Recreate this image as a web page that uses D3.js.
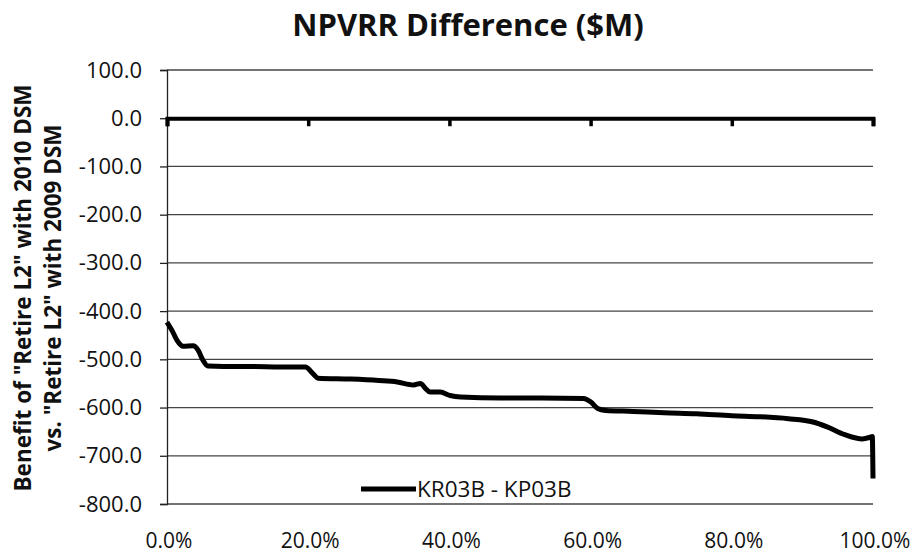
<!DOCTYPE html>
<html>
<head>
<meta charset="utf-8">
<script src="https://cdn.jsdelivr.net/npm/d3@7"></script>
<style>
  body { margin: 0; background: #fff; }
  text { font-family: "Open Sans", Lato, sans-serif; fill: #111; }
</style>
</head>
<body>
<svg id="chart" width="923" height="559"></svg>
<script>
// cumulative share of scenarios (%) and NPVRR difference ($M)
var pct = [0, 0.7, 1.4, 2.3, 3.7, 4.4, 5.1, 5.8, 8, 12, 16, 19.6, 20.7, 21.4, 26, 30, 32.6, 34.9, 35.9, 36.6, 37.3, 38.7, 40.1, 41.6, 47.2, 53, 59, 60, 61, 62.1, 66, 70.4, 75, 80, 84, 88, 91.5, 93.5, 96, 98.5, 99.5, 99.9, 100];
var values = [-423, -440, -460, -473, -472, -481, -502, -514, -515, -515, -516, -516, -530, -539, -541, -544, -547, -553, -550, -560, -568, -568, -575, -578, -580, -580, -581, -588, -602, -606, -608, -611, -613, -617, -619, -623, -630, -640, -656, -665, -662, -660, -747];

var yTicks = [100, 0, -100, -200, -300, -400, -500, -600, -700, -800];
var xTicks = [0, 20, 40, 60, 80, 100];
var seriesName = "KR03B - KP03B";

var svg = d3.select("#chart"),
    plotLeft = 167, plotRight = 873, plotTop = 70, plotBottom = 504;

var x = d3.scaleLinear().domain([0, 100]).range([plotLeft, plotRight]),
    y = d3.scaleLinear().domain([100, -800]).range([plotTop, plotBottom]);

svg.append("text")
    .attr("x", 468).attr("y", 36)
    .attr("text-anchor", "middle")
    .style("font-size", "31px").style("font-weight", "bold")
    .text("NPVRR Difference ($M)");

// gridlines
svg.append("g").selectAll("line")
    .data(yTicks)
    .enter().append("line")
    .attr("x1", plotLeft).attr("x2", plotRight)
    .attr("y1", d => y(d)).attr("y2", d => y(d))
    .attr("stroke", "#444").attr("stroke-width", 1.3);

// y axis
var yAxis = svg.append("g")
    .attr("transform", "translate(" + plotLeft + ",0)")
    .call(d3.axisLeft(y).tickValues(yTicks).tickSize(7).tickPadding(18).tickFormat(d => d.toFixed(1)));
yAxis.select(".domain").attr("stroke", "#222").attr("stroke-width", 1.3);
yAxis.selectAll(".tick line").attr("stroke", "#222").attr("stroke-width", 1.3);
yAxis.selectAll("text").style("font-size", "22px").attr("fill", "#111");

// x axis crosses at zero, labels sit at the bottom
var xAxis = svg.append("g")
    .attr("transform", "translate(0," + y(0) + ")")
    .call(d3.axisBottom(x).tickValues(xTicks).tickSize(8).tickFormat(""));
xAxis.select(".domain").attr("stroke", "#000").attr("stroke-width", 4);
xAxis.selectAll(".tick line").attr("stroke", "#000").attr("stroke-width", 3.5);

svg.append("g").selectAll("text")
    .data(xTicks)
    .enter().append("text")
    .attr("x", d => x(d) + 2).attr("y", 548)
    .attr("text-anchor", "middle")
    .style("font-size", "21px")
    .text(d => d.toFixed(1) + "%");

// y title
var yTitle = svg.append("text")
    .attr("transform", "translate(0,288) rotate(-90)")
    .attr("text-anchor", "middle")
    .style("font-size", "22.5px").style("font-weight", "bold");
yTitle.append("tspan").attr("x", 0).attr("y", 31).text("Benefit of \"Retire L2\" with 2010 DSM");
yTitle.append("tspan").attr("x", 0).attr("y", 61).text("vs. \"Retire L2\" with 2009 DSM");

// series
var line = d3.line()
    .x((d, i) => x(pct[i]))
    .y(d => y(d))
    .curve(d3.curveMonotoneX);

svg.append("path")
    .datum(values)
    .attr("d", line)
    .attr("fill", "none")
    .attr("stroke", "#000")
    .attr("stroke-width", 5)
    .attr("stroke-linejoin", "round");

// legend
svg.append("line")
    .attr("x1", 361).attr("x2", 416)
    .attr("y1", 489).attr("y2", 489)
    .attr("stroke", "#000").attr("stroke-width", 5);
svg.append("text")
    .attr("x", 417).attr("y", 497)
    .style("font-size", "22.5px")
    .text(seriesName);
</script>
</body>
</html>
